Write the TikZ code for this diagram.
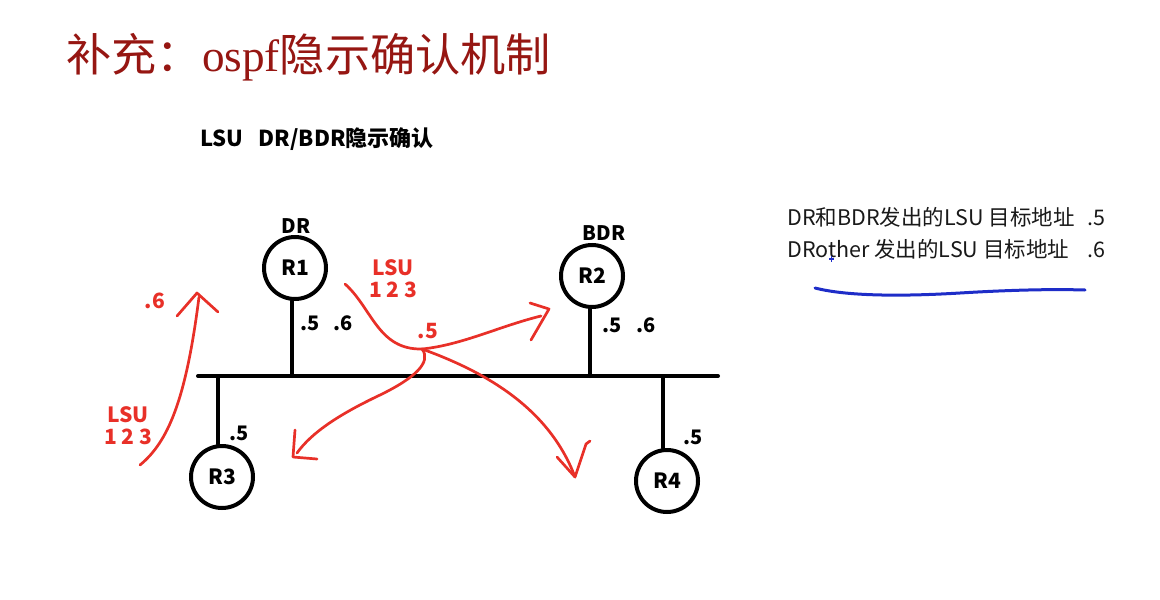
\documentclass[tikz,border=0pt]{standalone}
\usepackage{fontspec}
\setmainfont{Noto Sans CJK SC}
\newfontfamily\serif{Liberation Serif}
\definecolor{titlered}{RGB}{150,22,18}
\definecolor{pen}{RGB}{232,48,40}
\definecolor{bluepen}{RGB}{30,45,200}
\definecolor{txt}{RGB}{25,25,25}
\begin{document}
\begin{tikzpicture}[x=0.5pt,y=-0.5pt,
  router/.style={circle,draw=black,line width=2pt,minimum size=31pt,inner sep=0pt,font=\fontsize{10.5}{12}\selectfont\bfseries},
  wire/.style={line width=2pt,line cap=round},
  lbl/.style={font=\fontsize{10}{12}\selectfont\bfseries,inner sep=0pt},
  redlbl/.style={font=\fontsize{10.5}{12}\selectfont\bfseries,text=pen,inner sep=0pt,align=center},
  redpen/.style={draw=pen,line width=1.35pt,line cap=round,line join=round},
  bluestroke/.style={draw=bluepen,line width=1.5pt,line cap=round},
  note/.style={font=\fontsize{10.75}{12}\selectfont,text=txt,inner sep=0pt,anchor=base west}]
\useasboundingbox (0,0) rectangle (1160,599);
% title
\node[anchor=base west,inner sep=0pt,text=titlered,font=\fontsize{22.6}{26}\selectfont] (title) at (66,72)
  {补充：{\serif ospf}隐示确认机制};
\node[anchor=base west,inner sep=0pt,font=\fontsize{11}{13}\selectfont\bfseries] (sub) at (200,146)
  {LSU\ \ \ DR/BDR隐示确认};
% bus
\coordinate (busL) at (198,376);
\coordinate (busR) at (718,376);
\draw[wire] (busL) -- (busR);
% routers
\node[router] (r1) at (295,268) {R1};
\node[router] (r2) at (592,276) {R2};
\node[router] (r3) at (222,477) {R3};
\node[router] (r4) at (667,481) {R4};
\coordinate (t1) at (292,376);
\coordinate (t2) at (590,376);
\coordinate (t3) at (218,376);
\coordinate (t4) at (663,376);
\draw[wire] (r1.south -| t1) -- (t1);
\draw[wire] (r2.south -| t2) -- (t2);
\draw[wire] (r3.north -| t3) -- (t3);
\draw[wire] (r4.north -| t4) -- (t4);
% role labels
\node[lbl] (dr) at (296,226) {DR};
\node[lbl] (bdr) at (604,233) {BDR};
\node[lbl] (a15) at (310,323) {.5};
\node[lbl] (a16) at (343,323) {.6};
\node[lbl] (a25) at (612,325) {.5};
\node[lbl] (a26) at (646,325) {.6};
\node[lbl] (a35) at (239,433) {.5};
\node[lbl] (a45) at (693,437) {.5};
% red annotations
\node[redlbl] (lsuL) at (128,426) {LSU\\[-1pt]1 2 3};
\node[redlbl] (sixL) at (155,301) {.6};
\node[redlbl] (lsuM) at (393,279) {LSU\\[-1pt]1 2 3};
\node[redlbl] (fiveM) at (428,331) {.5};
% left arrow
\coordinate (la0) at (140,465);
\coordinate (la1) at (199,297);
\coordinate (laT) at (197,293);
\draw[redpen] (la0) .. controls (168,442) and (186,400) .. (la1);
\draw[redpen] (177,316) -- (laT) -- (218,312);
% middle curve into junction
\coordinate (m0) at (345,284);
\coordinate (jn) at (422,349);
\draw[redpen] (m0) .. controls (372,308) and (378,350) .. (jn);
% branch right-up
\coordinate (ru) at (541,316);
\draw[redpen] (jn) .. controls (462,345) and (500,326) .. (ru);
\draw[redpen] (530,303) -- (549,309) -- (531,340);
% branch down-right
\coordinate (rd) at (575,477);
\draw[redpen] (jn) .. controls (480,370) and (548,405) .. (rd);
\draw[redpen] (557,457) -- (rd) -- (586,444) -- (590,441);
% branch down-left
\coordinate (ld) at (297,453);
\draw[redpen] (jn) .. controls (432,362) and (415,378) .. (380,395)
  .. controls (340,414) and (312,432) .. (ld);
\draw[redpen] (295,430) -- (293,457) -- (317,459);
% notes
\node[note] (n1) at (787,225) {DR和BDR发出的LSU 目标地址};
\node[note] (n1v) at (1087,225) {.5};
\node[note] (n2) at (787,257) {DRother 发出的LSU 目标地址};
\node[note] (n2v) at (1087,257) {.6};
% blue marks
\coordinate (b0) at (815,288);
\coordinate (b1) at (1085,290);
\draw[bluestroke] (b0) .. controls (850,297) and (910,296) .. (960,293) .. controls (1010,290) and (1050,289) .. (b1);
\draw[draw=bluepen,line width=0.8pt] (829,259) -- (834,259) (831.5,256) -- (831.5,262);
\end{tikzpicture}
\end{document}
